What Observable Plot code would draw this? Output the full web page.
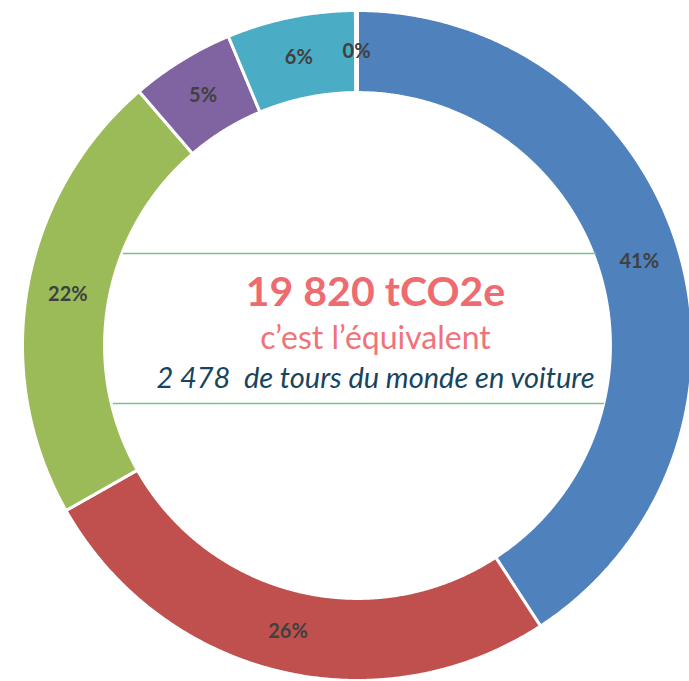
<!DOCTYPE html>
<html>
<head>
<meta charset="utf-8">
<script src="https://cdn.jsdelivr.net/npm/d3@7"></script>
<script src="https://cdn.jsdelivr.net/npm/@observablehq/plot@0.6"></script>
<style>
  html, body { margin: 0; padding: 0; background: #fff; }
  #chart { width: 689px; height: 681px; }
</style>
</head>
<body>
<div id="chart"></div>
<script>
// Data
const categories = ["Poste 1", "Poste 2", "Poste 3", "Poste 4", "Poste 5", "Poste 6"];
const shares = [40.8, 26.0, 21.9, 5.0, 6.2, 0.1];
const colors = ["#4f81bd", "#c0504d", "#9bbb59", "#8064a2", "#4bacc6", "#f79646"];
const totalLabel = "19 820 tCO2e";
const subLabel = "c\u2019est l\u2019\u00e9quivalent";
const equivLabel = "2 478  de tours du monde en voiture";

const rows = categories.map((c, i) => ({category: c, value: shares[i], color: colors[i]}));
const total = d3.sum(shares);
const arcs = d3.pie().sort(null).value(d => d.value)(rows);

const R_OUT = 1, R_IN = 0.755;
// polygon outline of each slice, derived from the pie layout
const outline = [];
for (const a of arcs) {
  const n = Math.max(2, Math.ceil((a.endAngle - a.startAngle) / 0.005));
  for (let k = 0; k <= n; k++) {
    const t = a.startAngle + (a.endAngle - a.startAngle) * k / n;
    outline.push({category: a.data.category, x: R_OUT * Math.sin(t), y: R_OUT * Math.cos(t)});
  }
  for (let k = n; k >= 0; k--) {
    const t = a.startAngle + (a.endAngle - a.startAngle) * k / n;
    outline.push({category: a.data.category, x: R_IN * Math.sin(t), y: R_IN * Math.cos(t)});
  }
}
const R_LAB = (R_OUT + R_IN) / 2;
const labels = arcs.map(a => {
  const m = (a.startAngle + a.endAngle) / 2;
  return {x: R_LAB * Math.sin(m), y: R_LAB * Math.cos(m), text: Math.round(a.data.value / total * 100) + "%"};
});

const S = 335; // pixels per unit radius
const chart = Plot.plot({
  width: 689,
  height: 681,
  margin: 0,
  style: {background: "#fff", fontFamily: "Lato, 'Open Sans', sans-serif"},
  x: {domain: [-357 / S, 332 / S], axis: null},
  y: {domain: [-336 / S, 345 / S], axis: null},
  color: {domain: categories, range: colors},
  marks: [
    Plot.line(outline, {x: "x", y: "y", z: "category", fill: "category", stroke: "#fff", strokeWidth: 3, curve: "linear-closed"}),
    Plot.text(labels, {x: "x", y: "y", text: "text", fill: "#404040", fontSize: 20, fontWeight: "bold"}),
    Plot.ruleY([92 / S], {x1: -234 / S, x2: 239 / S, stroke: "#79c28f", strokeWidth: 1.3}),
    Plot.ruleY([-58 / S], {x1: -244 / S, x2: 247 / S, stroke: "#79c28f", strokeWidth: 1.3}),
    Plot.text([totalLabel], {x: 18 / S, y: 0.158, text: d => d, fill: "#ee6b70", fontSize: 41, fontWeight: "bold"}),
    Plot.text([subLabel], {x: 18 / S, y: 0.021, text: d => d, fill: "#f07379", fontSize: 32}),
    Plot.text([equivLabel], {x: 18 / S, y: -0.099, text: d => d, fill: "#17445e", fontSize: 29, fontStyle: "italic"})
  ]
});
document.getElementById("chart").appendChild(chart);
</script>
</body>
</html>
